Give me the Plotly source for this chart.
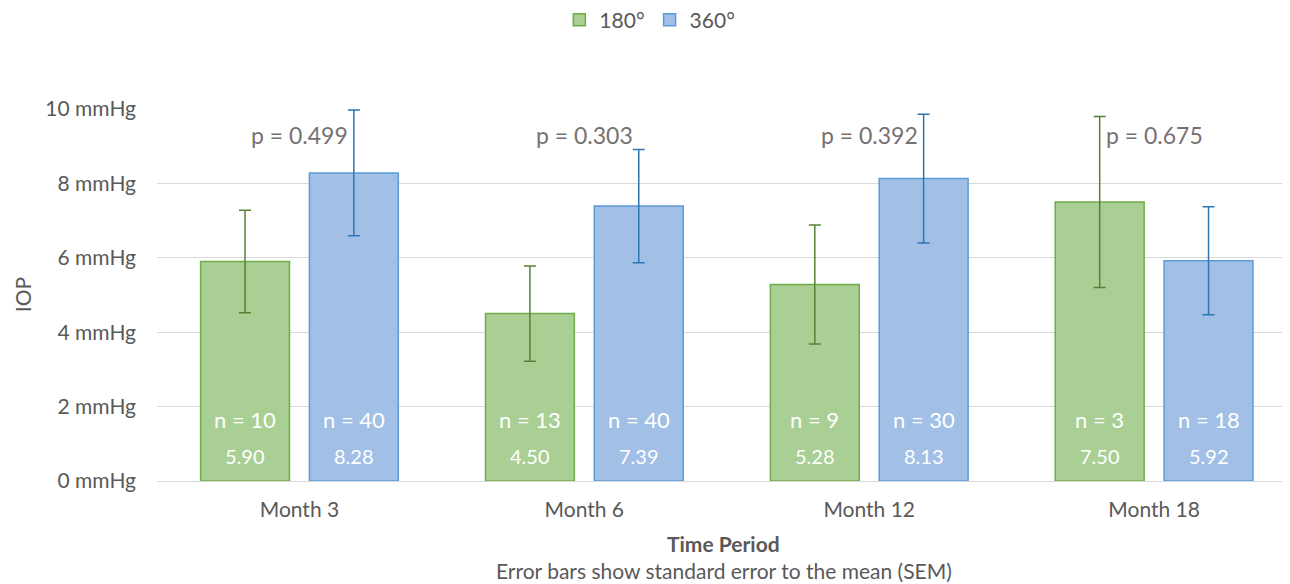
import plotly.graph_objects as go

categories = ["Month 3", "Month 6", "Month 12", "Month 18"]
series_names = ["180°", "360°"]
vals_180 = [5.90, 4.50, 5.28, 7.50]
vals_360 = [8.28, 7.39, 8.13, 5.92]
sem_180 = [1.38, 1.28, 1.60, 2.30]
sem_360 = [1.69, 1.52, 1.73, 1.45]
n_180 = [10, 13, 9, 3]
n_360 = [40, 40, 30, 18]
p_values = ["0.499", "0.303", "0.392", "0.675"]
y_ticks = [0, 2, 4, 6, 8, 10]
y_tick_labels = [f"{v} mmHg" for v in y_ticks]

FONT = "Lato"
x = list(range(len(categories)))
bar_w = 0.312
offsets = [-0.347, 0.035]

fig = go.Figure()
styles = [
    dict(fill="#a9cf95", line="#70ad47", err="#548235"),
    dict(fill="#a2c0e6", line="#5b9bd5", err="#2e75b6"),
]
for name, vals, sem, st, off in zip(series_names, [vals_180, vals_360], [sem_180, sem_360], styles, offsets):
    fig.add_trace(go.Bar(
        x=x, y=vals, name=name, width=bar_w, offset=off,
        marker=dict(color=st["fill"], line=dict(color=st["line"], width=1.5)),
        error_y=dict(type="data", array=sem, visible=True, color=st["err"], thickness=1.5, width=6),
        hoverinfo="y",
    ))

annotations = []
for i in x:
    for vals, ns, off in [(vals_180, n_180, offsets[0]), (vals_360, n_360, offsets[1])]:
        cx = i + off + bar_w / 2
        annotations.append(dict(x=cx, y=1.64, xref="x", yref="y", text=f"n = {ns[i]}", showarrow=False,
                                font=dict(family=FONT, size=22, color="white")))
        annotations.append(dict(x=cx, y=0.67, xref="x", yref="y", text=f"{vals[i]:.2f}", showarrow=False,
                                font=dict(family=FONT, size=20, color="white")))
    annotations.append(dict(x=i, y=9.3, xref="x", yref="y", text=f"p = {p_values[i]}", showarrow=False,
                            font=dict(family=FONT, size=23, color="#767171")))

annotations += [
    dict(x=0.5, y=-0.1667, xref="paper", yref="paper", text="<b>Time Period</b>", showarrow=False,
         font=dict(family=FONT, size=21, color="#595959"), xanchor="center", yanchor="middle", borderpad=0),
    dict(x=0.5, y=-0.2406, xref="paper", yref="paper", text="Error bars show standard error to the mean (SEM)",
         showarrow=False, font=dict(family=FONT, size=21, color="#595959"), xanchor="center", yanchor="middle",
         borderpad=0),
    dict(x=-0.119, y=0.5, xref="paper", yref="paper", text="IOP", textangle=-90, showarrow=False,
         font=dict(family=FONT, size=21, color="#595959"), xanchor="center", yanchor="middle"),
]

fig.update_layout(
    width=1282, height=576,
    margin=dict(l=149, r=0, t=101, b=103, autoexpand=False),
    barmode="overlay",
    plot_bgcolor="white", paper_bgcolor="white",
    font=dict(family=FONT, color="#595959"),
    showlegend=True,
    legend=dict(orientation="h", x=0.435, y=1.239, xanchor="center", yanchor="middle",
                font=dict(family=FONT, size=21, color="#595959"), itemwidth=30),
    annotations=annotations,
    xaxis=dict(tickvals=x, ticktext=categories, range=[-0.5, 3.477], showgrid=False, zeroline=False,
               showline=True, linecolor="#d9d9d9", linewidth=1, ticks="",
               tickfont=dict(family=FONT, size=21, color="#595959"), ticklabelstandoff=10),
    yaxis=dict(range=[0, 10], tickvals=y_ticks, ticktext=y_tick_labels, showgrid=True, gridcolor="#d9d9d9",
               gridwidth=1, zeroline=False, ticks="", showline=False,
               tickfont=dict(family=FONT, size=21, color="#595959"), ticklabelstandoff=20),
)

fig.write_html("out.html")
